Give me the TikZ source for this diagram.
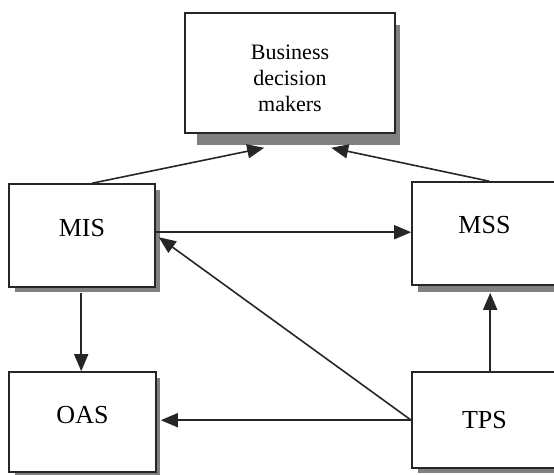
\documentclass[tikz,border=0pt]{standalone}
\usepackage{fontspec}
\setmainfont{Liberation Serif}
\usetikzlibrary{arrows.meta,calc}
\newcommand{\upby}[2]{\raisebox{#1}[\height][\depth]{#2}}
\tikzset{
  box/.style={draw=black!85, line width=1.6pt, fill=white, rectangle, inner sep=0pt,
    font=\fontsize{26}{30}\selectfont},
  shadowbox/.style={fill=black!50, draw=none},
  conn/.style={draw=black!85, line width=1.6pt, -{Triangle[length=17pt,width=14pt]}}
}
\begin{document}
\begin{tikzpicture}[x=1pt,y=-1pt]
\useasboundingbox (0,0) rectangle (554,474);
% shadows
\fill[shadowbox] (197,25) rectangle (400,145);
\fill[shadowbox] (15,190) rectangle (160,292);
\fill[shadowbox] (418,190) rectangle (562,292);
\fill[shadowbox] (15,378) rectangle (160,480);
\fill[shadowbox] (418,378) rectangle (562,473);
% boxes
\node[box, minimum width=210pt, minimum height=120pt,
  font=\fontsize{22}{26}\selectfont] (BDM) at (290,73)
  {\upby{-7pt}{\begin{tabular}{@{}c@{}}Business\\decision\\makers\end{tabular}}};
\node[box, minimum width=146pt, minimum height=103pt] (MIS) at (82,235.5) {\upby{7pt}{MIS}};
\node[box, minimum width=145pt, minimum height=103pt] (MSS) at (484.5,233.5) {\upby{8pt}{MSS}};
\node[box, minimum width=147pt, minimum height=100pt] (OAS) at (82.5,422) {\upby{7pt}{OAS}};
\node[box, minimum width=145pt, minimum height=96pt] (TPS) at (484.5,420) {TPS};
% connectors
\draw[conn] ($(MIS.north west)+(84,0)$) -- ($(BDM.south west)+(80,14)$);
\draw[conn] ($(MSS.north west)+(78,0)$) -- ($(BDM.south west)+(147,14)$);
\draw[conn] ($(MIS.north east)+(0,49)$) -- ($(MSS.north west)+(0,51)$);
\draw[conn] ($(TPS.north west)+(0,49)$) -- ($(MIS.north east)+(3,54)$);
\draw[conn] ($(TPS.north west)+(0,49)$) -- ($(OAS.north east)+(4,49)$);
\draw[conn] ($(MIS.south west)+(73,5)$) -- ($(OAS.north west)+(73,0)$);
\draw[conn] ($(TPS.north west)+(79,0)$) -- ($(MSS.south west)+(79,7)$);
\end{tikzpicture}
\end{document}
